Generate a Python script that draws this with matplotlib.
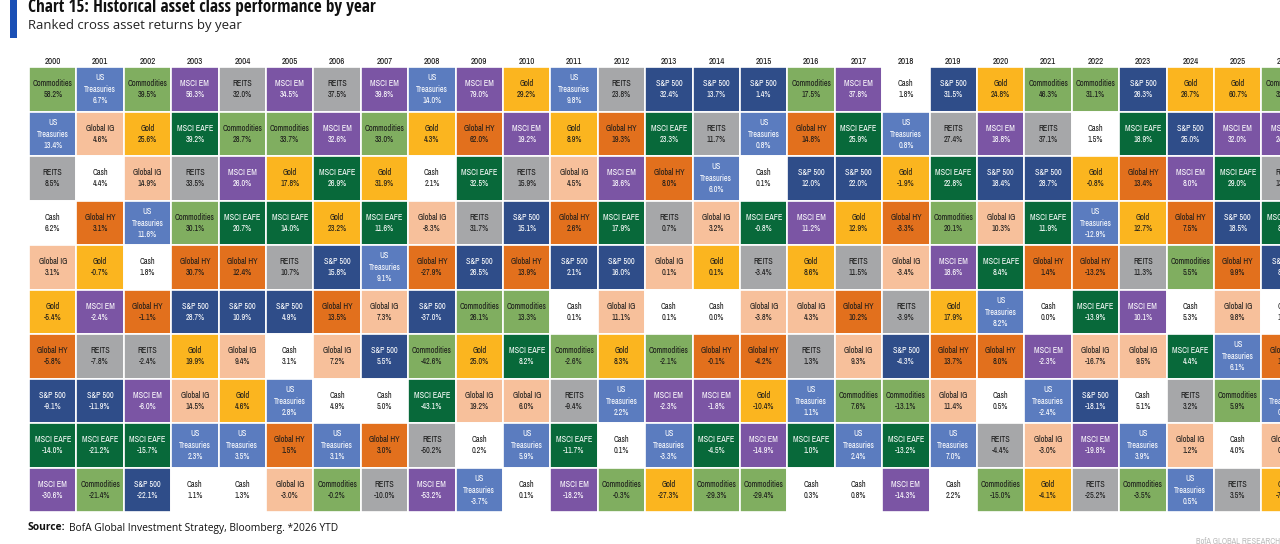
import matplotlib
matplotlib.use("Agg")
import matplotlib.pyplot as plt
from matplotlib import font_manager
from matplotlib.patches import Rectangle

years = [str(y) for y in range(2000, 2027)]

# ranked from best (top) to worst (bottom) for each year
ranked_assets = [
    ["Commodities", "US Treasuries", "REITS", "Cash", "Global IG", "Gold", "Global HY", "S&P 500", "MSCI EAFE", "MSCI EM"],
    ["US Treasuries", "Global IG", "Cash", "Global HY", "Gold", "MSCI EM", "REITS", "S&P 500", "MSCI EAFE", "Commodities"],
    ["Commodities", "Gold", "Global IG", "US Treasuries", "Cash", "Global HY", "REITS", "MSCI EM", "MSCI EAFE", "S&P 500"],
    ["MSCI EM", "MSCI EAFE", "REITS", "Commodities", "Global HY", "S&P 500", "Gold", "Global IG", "US Treasuries", "Cash"],
    ["REITS", "Commodities", "MSCI EM", "MSCI EAFE", "Global HY", "S&P 500", "Global IG", "Gold", "US Treasuries", "Cash"],
    ["MSCI EM", "Commodities", "Gold", "MSCI EAFE", "REITS", "S&P 500", "Cash", "US Treasuries", "Global HY", "Global IG"],
    ["REITS", "MSCI EM", "MSCI EAFE", "Gold", "S&P 500", "Global HY", "Global IG", "Cash", "US Treasuries", "Commodities"],
    ["MSCI EM", "Commodities", "Gold", "MSCI EAFE", "US Treasuries", "Global IG", "S&P 500", "Cash", "Global HY", "REITS"],
    ["US Treasuries", "Gold", "Cash", "Global IG", "Global HY", "S&P 500", "Commodities", "MSCI EAFE", "REITS", "MSCI EM"],
    ["MSCI EM", "Global HY", "MSCI EAFE", "REITS", "S&P 500", "Commodities", "Gold", "Global IG", "Cash", "US Treasuries"],
    ["Gold", "MSCI EM", "REITS", "S&P 500", "Global HY", "Commodities", "MSCI EAFE", "Global IG", "US Treasuries", "Cash"],
    ["US Treasuries", "Gold", "Global IG", "Global HY", "S&P 500", "Cash", "Commodities", "REITS", "MSCI EAFE", "MSCI EM"],
    ["REITS", "Global HY", "MSCI EM", "MSCI EAFE", "S&P 500", "Global IG", "Gold", "US Treasuries", "Cash", "Commodities"],
    ["S&P 500", "MSCI EAFE", "Global HY", "REITS", "Global IG", "Cash", "Commodities", "MSCI EM", "US Treasuries", "Gold"],
    ["S&P 500", "REITS", "US Treasuries", "Global IG", "Gold", "Cash", "Global HY", "MSCI EM", "MSCI EAFE", "Commodities"],
    ["S&P 500", "US Treasuries", "Cash", "MSCI EAFE", "REITS", "Global IG", "Global HY", "Gold", "MSCI EM", "Commodities"],
    ["Commodities", "Global HY", "S&P 500", "MSCI EM", "Gold", "Global IG", "REITS", "US Treasuries", "MSCI EAFE", "Cash"],
    ["MSCI EM", "MSCI EAFE", "S&P 500", "Gold", "REITS", "Global HY", "Global IG", "Commodities", "US Treasuries", "Cash"],
    ["Cash", "US Treasuries", "Gold", "Global HY", "Global IG", "REITS", "S&P 500", "Commodities", "MSCI EAFE", "MSCI EM"],
    ["S&P 500", "REITS", "MSCI EAFE", "Commodities", "MSCI EM", "Gold", "Global HY", "Global IG", "US Treasuries", "Cash"],
    ["Gold", "MSCI EM", "S&P 500", "Global IG", "MSCI EAFE", "US Treasuries", "Global HY", "Cash", "REITS", "Commodities"],
    ["Commodities", "REITS", "S&P 500", "MSCI EAFE", "Global HY", "Cash", "MSCI EM", "US Treasuries", "Global IG", "Gold"],
    ["Commodities", "Cash", "Gold", "US Treasuries", "Global HY", "MSCI EAFE", "Global IG", "S&P 500", "MSCI EM", "REITS"],
    ["S&P 500", "MSCI EAFE", "Global HY", "Gold", "REITS", "MSCI EM", "Global IG", "Cash", "US Treasuries", "Commodities"],
    ["Gold", "S&P 500", "MSCI EM", "Global HY", "Commodities", "Cash", "MSCI EAFE", "REITS", "Global IG", "US Treasuries"],
    ["Gold", "MSCI EM", "MSCI EAFE", "S&P 500", "Global HY", "Global IG", "US Treasuries", "Commodities", "Cash", "REITS"],
    ["Commodities", "MSCI EM", "REITS", "MSCI EAFE", "S&P 500", "Cash", "Global HY", "US Treasuries", "Global IG", "Gold"],
]

ranked_returns = [
    [58.2, 13.4, 8.5, 6.2, 3.1, -5.4, -5.8, -9.1, -14.0, -30.6],
    [6.7, 4.6, 4.4, 3.1, -0.7, -2.4, -7.8, -11.9, -21.2, -21.4],
    [39.5, 25.6, 14.9, 11.6, 1.8, -1.1, -2.4, -6.0, -15.7, -22.1],
    [56.3, 39.2, 33.5, 30.1, 30.7, 28.7, 19.9, 14.5, 2.3, 1.1],
    [32.0, 28.7, 26.0, 20.7, 12.4, 10.9, 9.4, 4.6, 3.5, 1.3],
    [34.5, 33.7, 17.8, 14.0, 10.7, 4.9, 3.1, 2.8, 1.5, -3.0],
    [37.5, 32.6, 26.9, 23.2, 15.8, 13.5, 7.2, 4.9, 3.1, -0.2],
    [39.8, 33.0, 31.9, 11.6, 9.1, 7.3, 5.5, 5.0, 3.0, -10.0],
    [14.0, 4.3, 2.1, -8.3, -27.9, -37.0, -42.6, -43.1, -50.2, -53.2],
    [79.0, 62.0, 32.5, 31.7, 26.5, 26.1, 25.0, 19.2, 0.2, -3.7],
    [29.2, 19.2, 15.9, 15.1, 13.9, 13.3, 8.2, 6.0, 5.9, 0.1],
    [9.8, 8.9, 4.5, 2.6, 2.1, 0.1, -2.6, -9.4, -11.7, -18.2],
    [23.8, 19.3, 18.6, 17.9, 16.0, 11.1, 8.3, 2.2, 0.1, -0.3],
    [32.4, 23.3, 8.0, 0.7, 0.1, 0.1, -2.1, -2.3, -3.3, -27.3],
    [13.7, 11.7, 6.0, 3.2, 0.1, 0.0, -0.1, -1.8, -4.5, -29.3],
    [1.4, 0.8, 0.1, -0.8, -3.4, -3.8, -4.2, -10.4, -14.9, -29.4],
    [17.5, 14.8, 12.0, 11.2, 8.6, 4.3, 1.3, 1.1, 1.0, 0.3],
    [37.8, 25.9, 22.0, 12.9, 11.5, 10.2, 9.3, 7.6, 2.4, 0.8],
    [1.8, 0.8, -1.9, -3.3, -3.4, -3.9, -4.3, -13.1, -13.2, -14.3],
    [31.5, 27.4, 22.8, 20.1, 18.6, 17.9, 13.7, 11.4, 7.0, 2.2],
    [24.8, 18.8, 18.4, 10.3, 8.4, 8.2, 8.0, 0.5, -4.4, -15.0],
    [46.3, 37.1, 28.7, 11.9, 1.4, 0.0, -2.3, -2.4, -3.0, -4.1],
    [31.1, 1.5, -0.8, -12.9, -13.2, -13.9, -16.7, -18.1, -19.8, -25.2],
    [26.3, 18.9, 13.4, 12.7, 11.3, 10.1, 9.5, 5.1, 3.9, -3.5],
    [26.7, 25.0, 8.0, 7.5, 5.5, 5.3, 4.4, 3.2, 1.2, 0.5],
    [60.7, 32.0, 29.0, 18.5, 9.9, 9.8, 6.1, 5.9, 4.0, 3.5],
    [32.4, 24.6, 13.2, 8.9, 8.4, 1.1, 1.0, 0.6, 0.4, -7.2],
]

asset_colors = {
    "Commodities": "#80ae60",
    "US Treasuries": "#5b7cbf",
    "Cash": "#ffffff",
    "Global IG": "#f7c09b",
    "Gold": "#fbb51f",
    "Global HY": "#e2701d",
    "REITS": "#a6a7a9",
    "S&P 500": "#2f4d89",
    "MSCI EM": "#7b55a4",
    "MSCI EAFE": "#08693a",
}
white_text = {"US Treasuries", "S&P 500", "MSCI EM", "MSCI EAFE"}


def pick_font(names):
    available = {f.name for f in font_manager.fontManager.ttflist}
    for n in names:
        if n in available:
            return n
    return "Liberation Sans"


narrow = pick_font(["Liberation Sans Narrow", "Arial Narrow", "Archivo Narrow", "Roboto Condensed", "Liberation Sans"])
title_font = pick_font(["Open Sans Condensed", "Roboto Condensed", "Open Sans"])
body_font = pick_font(["Open Sans", "Liberation Sans"])

W, H = 1280, 544
fig = plt.figure(figsize=(W / 100, H / 100), dpi=100)
renderer = fig.canvas.get_renderer()


def text_width(text, family, weight, size=10.0):
    t = fig.text(0, 0, text, fontsize=size, family=family, fontweight=weight)
    w = t.get_window_extent(renderer).width
    t.remove()
    return w


def fit_size(text, family, weight, target_px, size=10.0):
    # font size that makes the text about target_px wide
    return size * target_px / text_width(text, family, weight, size)


cell_fs = min(fit_size("Commodities", narrow, "normal", 40), 7.0)
year_fs = min(fit_size("2000", narrow, "bold", 16), 6.8)
title_fs = fit_size("Chart 15: Historical asset class performance by year", title_font, "bold", 345)
sub_fs = fit_size("Ranked cross asset returns by year", body_font, "normal", 212)

# grid geometry in pixels
left, top, col_w, row_h = 29, 67, 47.4, 44.5
n_cols, n_rows = len(years), 10
ax = fig.add_axes([left / W, (H - top - n_rows * row_h) / H, n_cols * col_w / W, n_rows * row_h / H])
ax.set_xlim(0, n_cols)
ax.set_ylim(n_rows, 0)
ax.axis("off")

for c, year in enumerate(years):
    ax.text(c + 0.5, -0.12, year, ha="center", va="center", fontsize=year_fs,
            fontweight="bold", family=narrow, color="#111111", clip_on=False)
    for r in range(n_rows):
        asset = ranked_assets[c][r]
        val = ranked_returns[c][r]
        ax.add_patch(Rectangle((c, r), 1, 1, facecolor=asset_colors[asset],
                               edgecolor="white", linewidth=1.2))
        tc = "white" if asset in white_text else "#1a1a1a"
        if asset == "US Treasuries":
            lines = [("US", 0.24), ("Treasuries", 0.51), (f"{val:.1f}%", 0.76)]
        else:
            lines = [(asset, 0.38), (f"{val:.1f}%", 0.62)]
        for txt, dy in lines:
            ax.text(c + 0.5, r + dy, txt, ha="center", va="center", fontsize=cell_fs,
                    family=narrow, color=tc)

# header
fig.patches.append(Rectangle((10 / W, 1 - 38 / H), 7 / W, 38 / H, transform=fig.transFigure,
                             facecolor="#1a4fb5", edgecolor="none"))
fig.text(28 / W, 1 - 7 / H, "Chart 15: Historical asset class performance by year", ha="left", va="center",
         fontsize=title_fs, fontweight="bold", family=title_font, color="#111111")
fig.text(28 / W, 1 - 26 / H, "Ranked cross asset returns by year", ha="left", va="center",
         fontsize=sub_fs, family=body_font, color="#222222")

# source line: bold lead-in then normal text, scaled to span ~311 px
src_text = "BofA Global Investment Strategy, Bloomberg. *2026 YTD"
w_total = text_width("Source:", body_font, "bold") + text_width(src_text, body_font, "normal")
src_fs = 10.0 * 308 / w_total
src = fig.text(28 / W, 1 - 528 / H, "Source:", ha="left", va="center", fontsize=src_fs,
               fontweight="bold", family=body_font, color="#111111")
bb = src.get_window_extent(renderer)
fig.text((bb.x1 + 3) / W, 1 - 528 / H, src_text,
         ha="left", va="center", fontsize=src_fs, family=body_font, color="#111111")
fig.text(1196 / W, 1 - 541 / H, "BofA GLOBAL RESEARCH", ha="left", va="center", fontsize=6,
         family=narrow, color="#bbbbbb")

fig.savefig("out.png", dpi=100)
